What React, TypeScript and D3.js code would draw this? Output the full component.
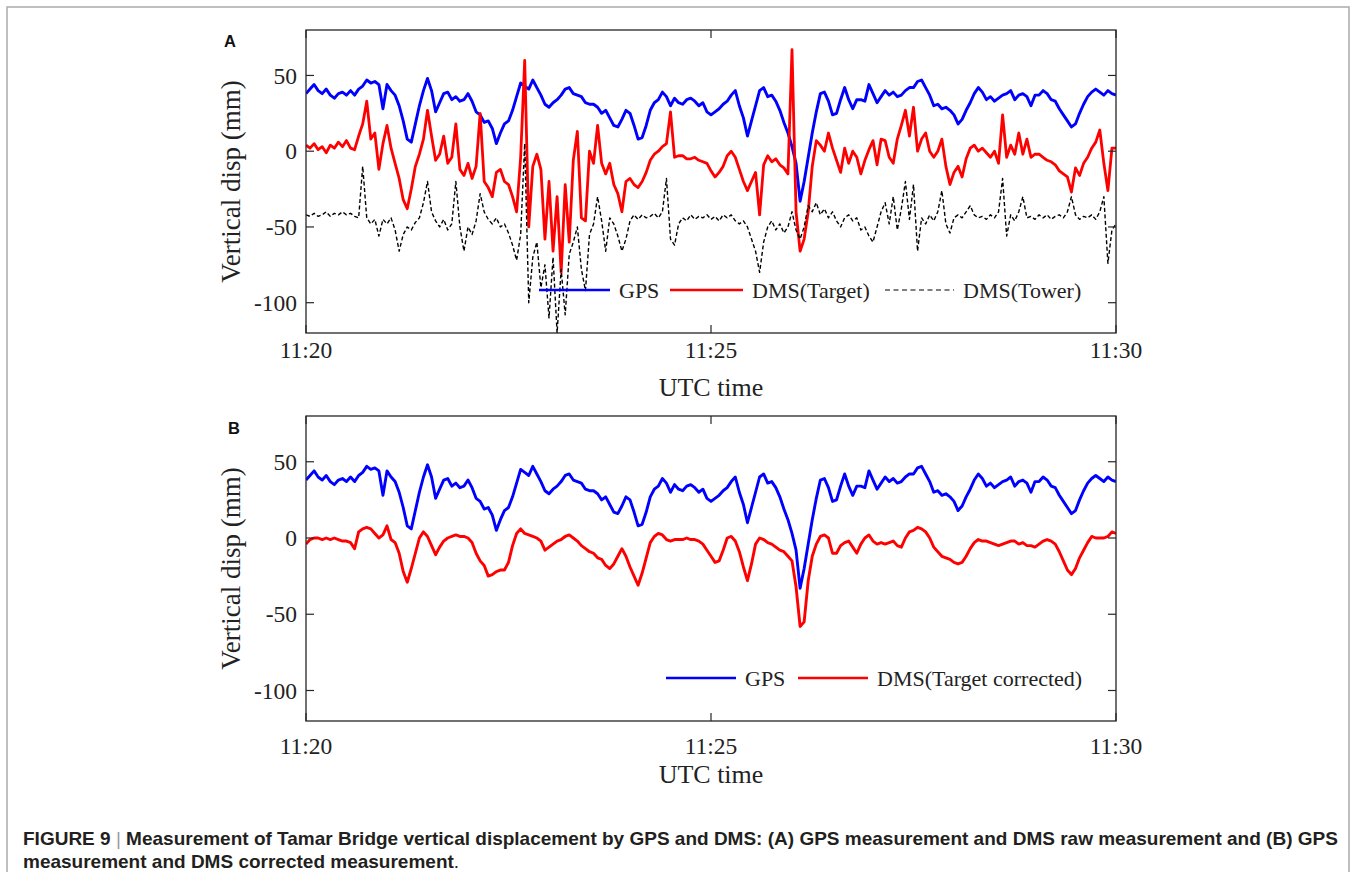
import React from 'react';
import * as d3 from 'd3';

// sample times in seconds after 11:20, one value every 3 s
const TIME = d3.range(0, 601, 3);

// GPS vertical displacement (mm) - same record in both panels
const GPS = [
  38, 41, 44, 40, 38, 41, 37, 35, 38, 39,
  37, 40, 37, 41, 43, 47, 45, 46, 44, 28,
  44, 40, 37, 30, 20, 8, 6, 18, 30, 40,
  48, 40, 26, 32, 38, 39, 34, 36, 33, 34,
  38, 33, 26, 24, 19, 20, 15, 5, 12, 18,
  20, 27, 36, 45, 43, 41, 47, 42, 37, 31,
  29, 32, 34, 37, 41, 42, 38, 37, 36, 32,
  31, 31, 29, 25, 27, 22, 17, 16, 21, 27,
  25, 17, 8, 9, 17, 27, 32, 34, 39, 36,
  30, 35, 32, 31, 34, 35, 33, 30, 32, 26,
  24, 26, 28, 31, 33, 37, 40, 30, 22, 10,
  20, 30, 40, 42, 36, 37, 33, 27, 19, 12,
  3, -8, -33, -20, -4, 12, 26, 38, 39, 33,
  24, 25, 34, 42, 34, 28, 34, 34, 33, 44,
  38, 32, 36, 40, 37, 39, 36, 37, 40, 42,
  42, 46, 47, 42, 37, 30, 31, 28, 29, 27,
  24, 18, 21, 27, 32, 38, 42, 39, 34, 36,
  33, 35, 37, 38, 40, 34, 37, 38, 36, 30,
  37, 37, 40, 38, 34, 33, 28, 24, 20, 16,
  18, 25, 31, 36, 39, 41, 39, 37, 40, 38,
  37
];

// DMS raw target displacement (mm), panel A
const DMS_TARGET = [
  4, 2, 5, 1, 3, -1, 4, 2, 6, 3,
  7, 2, 1, 10, 18, 33, 8, 12, -12, 5,
  17, 2, -8, -18, -32, -38, -25, -10, -2, 8,
  27, 10, -6, -2, 10, -8, -4, 18, -12, -16,
  -8, -18, -10, 25, -20, -24, -30, -14, -12, -20,
  -22, -30, -40, -4, 60, -50, -10, -2, -12, -58,
  -20, -66, -30, -80, -22, -60, -6, 13, -44, -46,
  0, -8, 17, -8, -15, -8, -22, -28, -40, -20,
  -18, -22, -24, -20, -14, -6, -2, 0, 3, 5,
  26, -4, -3, -3, -5, -5, -4, -6, -7, -8,
  -13, -17, -14, -10, -3, 0, -4, -12, -20, -26,
  -20, -14, -42, -9, -3, -7, -5, -9, -11, -15,
  67, -40, -66, -58, -40, -10, 7, 4, 0, 12,
  2, -6, -14, 2, -8, 0, -4, -15, -6, 1,
  7, -9, 8, 7, -4, -8, 8, 17, 27, 10,
  29, 0, 8, 12, 0, -4, 0, 8, -10, -22,
  -14, -10, -17, -5, 2, 4, 0, 2, -1, -4,
  0, -8, 24, -4, 4, -2, 12, -2, 8, -4,
  -2, -2, -4, -6, -7, -9, -13, -15, -17, -27,
  -11, -16, -8, -4, 2, 6, 14, -8, -26, 2,
  2
];

// DMS tower displacement (mm), panel A
const DMS_TOWER = [
  -42, -43, -41, -43, -42, -40, -43, -41, -42, -40,
  -42, -41, -43, -44, -10, -44, -48, -45, -56, -45,
  -48, -44, -52, -66, -55, -50, -52, -47, -44, -34,
  -20, -40, -46, -50, -45, -52, -48, -20, -50, -66,
  -50, -55, -46, -28, -40, -45, -48, -44, -50, -48,
  -54, -62, -72, -55, 5, -100, -70, -60, -90, -75,
  -110, -70, -120, -78, -108, -68, -60, -50, -78, -92,
  -55, -48, -30, -46, -66, -44, -48, -56, -66, -58,
  -46, -42, -45, -42, -44, -43, -41, -44, -40, -18,
  -58, -62, -48, -44, -46, -42, -45, -43, -44, -42,
  -45, -43, -46, -42, -44, -42, -46, -48, -46, -50,
  -58, -66, -80, -60, -50, -46, -52, -48, -54, -50,
  -40, -52, -58, -50, -36, -40, -34, -42, -38, -44,
  -40, -46, -50, -44, -42, -46, -44, -52, -50, -56,
  -60, -50, -40, -34, -48, -30, -52, -38, -20, -45,
  -22, -66, -44, -48, -42, -46, -40, -26, -48, -54,
  -44, -42, -44, -40, -36, -42, -44, -43, -45, -42,
  -44, -40, -18, -56, -42, -46, -40, -30, -44, -43,
  -45, -42, -44, -42, -45, -43, -42, -44, -40, -30,
  -42, -45, -43, -44, -42, -45, -40, -30, -74, -52,
  -48
];

// DMS target displacement after tower correction (mm), panel B
const DMS_CORRECTED = [
  -4, -1, 0, 0, -1, 0, -1, 0, -1, -2,
  -2, -3, -7, 4, 6, 7, 6, 3, 0, 2,
  8, -1, -3, -10, -22, -29, -20, -10, 0, 4,
  1, -5, -11, -6, -2, 0, 1, 2, 1, 1,
  0, -3, -10, -15, -18, -25, -24, -22, -21, -21,
  -16, -5, 3, 6, 3, 2, 1, 0, -2, -8,
  -6, -4, -2, -1, 1, 2, 0, -2, -5, -7,
  -9, -10, -13, -14, -18, -20, -17, -12, -7, -12,
  -19, -25, -31, -23, -13, -3, 1, 3, 2, -1,
  -2, -1, -1, -1, 0, -1, -1, -2, -4, -8,
  -12, -16, -15, -8, 0, 1, -2, -9, -19, -28,
  -17, -4, 0, -1, -3, -4, -6, -8, -9, -12,
  -15, -32, -58, -55, -28, -12, -4, 1, 2, 0,
  -10, -10, -5, -3, -2, -6, -10, -4, 0, 2,
  -2, -4, -3, -4, -3, -2, -5, -6, 0, 4,
  5, 7, 6, 4, 0, -6, -9, -12, -13, -14,
  -16, -17, -16, -12, -7, -3, -1, -2, -2, -3,
  -4, -5, -4, -3, -2, -2, -4, -3, -5, -5,
  -6, -4, -2, -1, -2, -4, -9, -15, -21, -24,
  -20, -13, -8, -3, 1, 0, 0, 0, 1, 4,
  3
];

const Y_TICKS = [50, 0, -50, -100];
const X_TICKS = [0, 300, 600];
const X_TICK_LABELS = ['11:20', '11:25', '11:30'];

const SERIF = '"Liberation Serif", "Times New Roman", serif';
const SANS = '"Liberation Sans", Arial, sans-serif';
const AXIS_COLOR = '#262626';

const LEFT = 306;
const RIGHT = 1116;

function Panel({ id, top, bottom, letter, tickBase, titleBase, series, legend, legendY }) {
  const x = d3.scaleLinear().domain([0, 600]).range([LEFT, RIGHT]);
  const y = d3.scaleLinear().domain([-120, 80]).range([bottom, top]);
  const line = (vals) => d3.line().x((_, i) => x(TIME[i])).y(d => y(d))(vals);
  const tick = 8;
  const midY = (top + bottom) / 2;

  return (
    <g>
      <defs>
        <clipPath id={`clip-${id}`}>
          <rect x={LEFT} y={top} width={RIGHT - LEFT} height={bottom - top} />
        </clipPath>
      </defs>
      <g clipPath={`url(#clip-${id})`} fill="none" strokeLinejoin="round">
        {series.map(s => (
          <path key={s.name} d={line(s.values)} stroke={s.color}
            strokeWidth={s.width} strokeDasharray={s.dash || null} />
        ))}
      </g>

      {/* box and inward ticks */}
      <rect x={LEFT} y={top} width={RIGHT - LEFT} height={bottom - top}
        fill="none" stroke={AXIS_COLOR} strokeWidth={1.3} />
      {Y_TICKS.map(v => (
        <g key={v} stroke={AXIS_COLOR} strokeWidth={1.2}>
          <line x1={LEFT} x2={LEFT + tick} y1={y(v)} y2={y(v)} />
          <line x1={RIGHT} x2={RIGHT - tick} y1={y(v)} y2={y(v)} />
        </g>
      ))}
      {X_TICKS.map(t => (
        <g key={t} stroke={AXIS_COLOR} strokeWidth={1.2}>
          <line x1={x(t)} x2={x(t)} y1={bottom} y2={bottom - tick} />
          <line x1={x(t)} x2={x(t)} y1={top} y2={top + tick} />
        </g>
      ))}

      <g fontFamily={SERIF} fontSize={23.5} fill="#222">
        {Y_TICKS.map(v => (
          <text key={v} x={LEFT - 9} y={y(v)} dy="0.35em" textAnchor="end">{v}</text>
        ))}
        {X_TICKS.map((t, i) => (
          <text key={t} x={x(t)} y={tickBase} textAnchor="middle">{X_TICK_LABELS[i]}</text>
        ))}
      </g>
      <text x={(LEFT + RIGHT) / 2} y={titleBase} textAnchor="middle"
        fontFamily={SERIF} fontSize={26} fill="#222">UTC time</text>
      <text transform={`translate(240,${midY}) rotate(-90)`} textAnchor="middle"
        fontFamily={SERIF} fontSize={27} fill="#222">Vertical disp (mm)</text>
      <text x={letter.x} y={letter.y} fontFamily={SANS} fontWeight="bold"
        fontSize={16.5} fill="#111">{letter.text}</text>

      {/* legend, no box */}
      <g fontFamily={SERIF} fontSize={22} fill="#222">
        {legend.map(item => (
          <g key={item.label}>
            <line x1={item.x1} x2={item.x2} y1={legendY} y2={legendY}
              stroke={item.color} strokeWidth={item.width}
              strokeDasharray={item.dash || null} />
            <text x={item.x2 + 9} y={legendY + 8}>{item.label}</text>
          </g>
        ))}
      </g>
    </g>
  );
}

export default function App() {
  const seriesA = [
    { name: 'GPS', values: GPS, color: '#0000ff', width: 2.9 },
    { name: 'DMS(Target)', values: DMS_TARGET, color: '#ff0000', width: 2.8 },
    { name: 'DMS(Tower)', values: DMS_TOWER, color: '#000000', width: 1.4, dash: '4,2.5' },
  ];
  const seriesB = [
    { name: 'GPS', values: GPS, color: '#0000ff', width: 2.9 },
    { name: 'DMS(Target corrected)', values: DMS_CORRECTED, color: '#ff0000', width: 2.9 },
  ];
  const legendA = [
    { label: 'GPS', x1: 539, x2: 610, color: '#0000ff', width: 2.4 },
    { label: 'DMS(Target)', x1: 670, x2: 743, color: '#ff0000', width: 2.4 },
    { label: 'DMS(Tower)', x1: 885, x2: 954, color: '#000', width: 1.2, dash: '5,3.5' },
  ];
  const legendB = [
    { label: 'GPS', x1: 666, x2: 736, color: '#0000ff', width: 2.4 },
    { label: 'DMS(Target corrected)', x1: 798, x2: 868, color: '#ff0000', width: 2.4 },
  ];

  return (
    <div style={{ position: 'absolute', left: 0, top: 0 }}>
      <svg width={1356} height={872} style={{ display: 'block', background: '#fff' }}>
        <rect x={7} y={7} width={1342} height={900} fill="none" stroke="#aaa" strokeWidth={1.5} />
        <Panel id="a" top={30} bottom={333} letter={{ text: 'A', x: 224, y: 47 }}
          tickBase={357.5} titleBase={396} series={seriesA} legend={legendA} legendY={290} />
        <Panel id="b" top={416} bottom={721} letter={{ text: 'B', x: 228, y: 434 }}
          tickBase={754} titleBase={783} series={seriesB} legend={legendB} legendY={678} />
        <g fontFamily={SANS} fontSize={19} fontWeight="bold" fill="#231f20">
          <text x={23} y={845}>
            FIGURE 9 <tspan fontWeight="normal" fill="#999">|</tspan> Measurement of Tamar Bridge vertical displacement by GPS and DMS: (A) GPS measurement and DMS raw measurement and (B) GPS
          </text>
          <text x={23} y={868}>
            measurement and DMS corrected measurement<tspan fontWeight="normal">.</tspan>
          </text>
        </g>
      </svg>
    </div>
  );
}
